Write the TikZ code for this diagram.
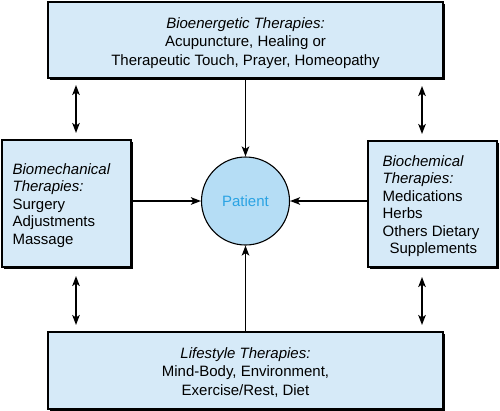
\documentclass[tikz,border=0pt]{standalone}
\usepackage{fontspec}
\setmainfont{Liberation Sans}
\usetikzlibrary{arrows.meta,shadows}
\definecolor{boxfill}{HTML}{D6EAF8}
\definecolor{circfill}{HTML}{B5DDF5}
\definecolor{pattext}{HTML}{2BA3E3}
\begin{document}
\begin{tikzpicture}[x=1pt,y=-1pt,
  therapy/.style={draw=black, line width=1.2pt, fill=boxfill, inner sep=0pt,
    drop shadow={shadow xshift=1.6pt, shadow yshift=-1.6pt, fill=black, opacity=1}},
  wide/.style={inner sep=0pt, align=center, font=\fontsize{15}{18.5}\selectfont},
  side/.style={inner sep=0pt, align=left, font=\fontsize{15}{17.5}\selectfont},
  tip/.tip={Stealth[length=10pt,width=7.5pt,inset=2.5pt]},
  conn/.style={line width=1.8pt, -tip},
  dconn/.style={line width=1.8pt, tip-tip}]
\useasboundingbox (0,0) rectangle (500,410);
\node[therapy, minimum width=395pt, minimum height=76pt] (top) at (245.5,40) {};
\node[wide, yshift=-3pt] (toptext) at (top.center)
  {\textit{Bioenergetic Therapies:}\\Acupuncture, Healing or\\Therapeutic Touch, Prayer, Homeopathy};
\node[therapy, minimum width=395pt, minimum height=77pt] (bot) at (245.5,370.5) {};
\node[wide, yshift=-2pt] (bottext) at (bot.center)
  {\textit{Lifestyle Therapies:}\\Mind-Body, Environment,\\Exercise/Rest, Diet};
\node[therapy, minimum width=129pt, minimum height=127pt] (left) at (66.5,203.5) {};
\node[side, anchor=west, yshift=-2pt] (lefttext) at ([xshift=11pt]left.west)
  {\textit{Biomechanical}\\\textit{Therapies:}\\Surgery\\Adjustments\\Massage};
\node[therapy, minimum width=129pt, minimum height=126pt] (right) at (432.5,204) {};
\node[side, anchor=west, yshift=-2pt] (righttext) at ([xshift=15pt]right.west)
  {\textit{Biochemical}\\\textit{Therapies:}\\Medications\\Herbs\\Others Dietary\\\hspace*{7pt}Supplements};
\node[circle, draw=black, line width=1.1pt, fill=circfill, minimum size=88pt, inner sep=0pt,
  text=pattext, font=\fontsize{15}{19}\selectfont] (pat) at (245.5,201) {Patient};
\draw[conn] (top.south -| pat.north) -- (pat.north);
\draw[conn] (bot.north -| pat.south) -- (pat.south);
\draw[conn] (left.east |- pat.west) -- (pat.west);
\draw[conn] (right.west |- pat.east) -- (pat.east);
\coordinate (lt1) at (76,85); \coordinate (lt2) at (76,133);
\coordinate (rt1) at (422,86); \coordinate (rt2) at (422,134);
\coordinate (lb1) at (76,276); \coordinate (lb2) at (76,325);
\coordinate (rb1) at (422,277); \coordinate (rb2) at (422,325);
\draw[dconn] (lt1) -- (lt2);
\draw[dconn] (rt1) -- (rt2);
\draw[dconn] (lb1) -- (lb2);
\draw[dconn] (rb1) -- (rb2);
\end{tikzpicture}
\end{document}
